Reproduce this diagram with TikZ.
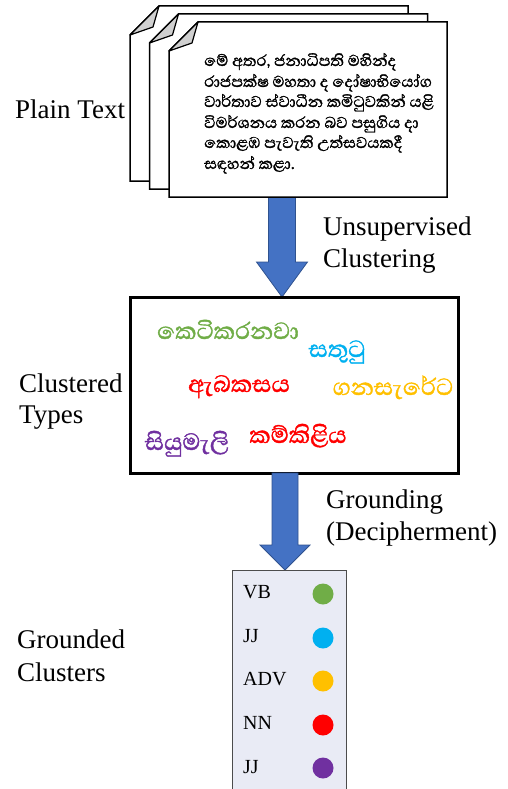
\documentclass[tikz,border=0pt]{standalone}
\usepackage{fontspec}
\setmainfont{Liberation Serif}
\newfontfamily\sinhala[Script=Sinhala, FakeBold=1.3]{Abhaya Libre}
\usetikzlibrary{calc}
\definecolor{arrowblue}{HTML}{4472C4}
\definecolor{arrowedge}{HTML}{2F528F}
\definecolor{cgreen}{HTML}{70AD47}
\definecolor{ccyan}{HTML}{00B0F0}
\definecolor{corange}{HTML}{FFC000}
\definecolor{cred}{HTML}{FF0000}
\definecolor{cpurple}{HTML}{7030A0}
\definecolor{gfill}{HTML}{E9EBF5}
\definecolor{foldgray}{HTML}{D0D0D0}
\newcommand\docpage[4]{%
  \filldraw[pageline] (#1+29,#2) -- (#3,#2) -- (#3,#4) -- (#1,#4) -- (#1,#2+29) -- cycle;
  \filldraw[foldline] (#1+29,#2) -- (#1,#2+29) -- (#1+23,#2+21) -- cycle;}
\begin{document}
\begin{tikzpicture}[x=1pt,y=-1pt,
  lbl/.style={anchor=base west, inner sep=0pt, font=\fontsize{27}{31}\selectfont},
  pageline/.style={draw=black, fill=white, line width=1.5pt, line join=miter},
  foldline/.style={draw=black, fill=foldgray, line width=1.2pt, line join=round},
  ptext/.style={anchor=base west, inner sep=0pt, font=\sinhala\fontsize{20}{22}\selectfont},
  word/.style={anchor=base, inner sep=0pt, font=\sinhala\fontsize{30}{32}\selectfont},
  barrow/.style={fill=arrowblue, draw=arrowedge, line width=0.8pt, line join=miter},
  clbox/.style={draw=black, line width=3pt, fill=white, minimum width=328pt, minimum height=176pt, inner sep=0pt, outer sep=0pt},
  gbox/.style={draw=black!70, line width=1pt, fill=gfill, minimum width=114pt, minimum height=240pt, inner sep=0pt, outer sep=0pt},
  tag/.style={anchor=base west, inner sep=0pt, font=\fontsize{20}{22}\selectfont},
  dot/.style={circle, minimum size=21pt, inner sep=0pt, draw=none}]
\clip (0,0) rectangle (508,789);
\fill[white] (0,0) rectangle (508,789);

% arrow 1 (drawn first, pages cover its top)
\coordinate (a1s) at (282,196);
\coordinate (a1e) at (282,297);
\draw[barrow] ($(a1s)+(-13.5,0)$) -- ($(a1s)+(13.5,0)$) -- ($(a1e)+(13.5,-35)$) -- ($(a1e)+(25.5,-35)$) -- (a1e) -- ($(a1e)+(-25.5,-35)$) -- ($(a1e)+(-13.5,-35)$) -- cycle;

% pages
\docpage{130}{6}{408}{181}
\docpage{149.5}{14}{427.5}{189}
\docpage{169}{22}{447}{197}

\node[ptext] (p1) at (204,66)  {මේ අතර, ජනාධිපති මහින්ද};
\node[ptext] (p2) at (204,87)  {රාජපක්ෂ මහතා ද දෝෂාභියෝග};
\node[ptext] (p3) at (204,107) {වාර්තාව ස්වාධීන කමිටුවකින් යළි};
\node[ptext] (p4) at (204,128) {විමර්ශනය කරන බව පසුගිය දා};
\node[ptext] (p5) at (204,148) {කොළඹ පැවැති උත්සවයකදී};
\node[ptext] (p6) at (204,169) {සඳහන් කළා.};

% clustered box
\node[clbox] (cl) at (294,385) {};
\node[word, text=cgreen]  (w1) at (228,339) {කෙටිකරනවා};
\node[word, text=ccyan]   (w2) at (337,357) {සතුටු};
\node[word, text=cred]    (w3) at (239,392) {ඇබකසය};
\node[word, text=corange] (w4) at (393,395) {ගනසැරේට};
\node[word, text=cpurple] (w5) at (187,450) {සියුමැලි};
\node[word, text=cred]    (w6) at (298,443) {කම්කිළිය};

% arrow 2
\coordinate (a2s) at (cl.south -| 285,0);
\coordinate (a2e) at (285,570);
\draw[barrow] ($(a2s)+(-13,0)$) -- ($(a2s)+(13,0)$) -- ($(a2e)+(13,-25)$) -- ($(a2e)+(25,-25)$) -- (a2e) -- ($(a2e)+(-25,-25)$) -- ($(a2e)+(-13,-25)$) -- cycle;

% grounded box
\node[gbox] (gb) at (289,690) {};
\node[tag] (t1) at (243,598) {VB};
\node[tag] (t2) at (243,642) {JJ};
\node[tag] (t3) at (243,685) {ADV};
\node[tag] (t4) at (243,729) {NN};
\node[tag] (t5) at (243,773) {JJ};
\node[dot, fill=cgreen]  (d1) at (323,594) {};
\node[dot, fill=ccyan]   (d2) at (323,638) {};
\node[dot, fill=corange] (d3) at (323,681) {};
\node[dot, fill=cred]    (d4) at (323,725) {};
\node[dot, fill=cpurple] (d5) at (323,768) {};

% labels
\node[lbl] (l1) at (15,118) {Plain Text};
\node[lbl] (l2a) at (323,235) {Unsupervised};
\node[lbl] (l2b) at (323,267) {Clustering};
\node[lbl] (l3a) at (19,392) {Clustered};
\node[lbl] (l3b) at (19,423) {Types};
\node[lbl] (l4a) at (326,508) {Grounding};
\node[lbl] (l4b) at (326,540) {(Decipherment)};
\node[lbl] (l5a) at (17,648) {Grounded};
\node[lbl] (l5b) at (17,681) {Clusters};
\end{tikzpicture}
\end{document}
